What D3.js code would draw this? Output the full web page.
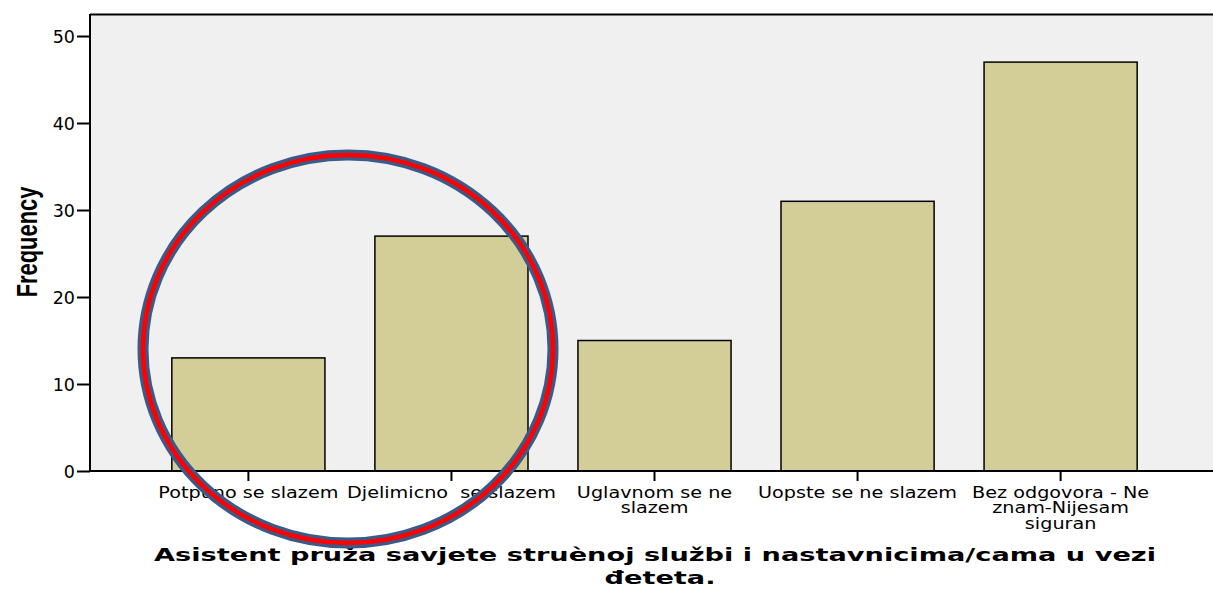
<!DOCTYPE html>
<html><head><meta charset="utf-8">
<script src="https://cdn.jsdelivr.net/npm/d3@7"></script>
<style>body{margin:0;background:#fff}svg{display:block}</style>
</head><body>
<svg id="c" width="1213" height="589"></svg>
<script>
const categories = ["Potpuno se slazem", "Djelimicno  se slazem", "Uglavnom se ne\nslazem", "Uopste se ne slazem", "Bez odgovora - Ne\nznam-Nijesam\nsiguran"];
const frequencies = [13, 27, 15, 31, 47];
const yTicks = [0, 10, 20, 30, 40, 50];
const titleLines = ["Asistent pruža savjete struènoj službi i nastavnicima/cama u vezi", "đeteta."];
const yLabel = "Frequency";

const svg = d3.select("#c");
const L = 90, T = 14, B = 471, R = 1213;

const x = d3.scaleBand().domain(categories).range([L, 1219]).paddingInner(0.246).paddingOuter(0.403);
const y = d3.scaleLinear().domain([0, 52.53]).range([B, T]);

svg.append("rect").attr("x", L).attr("y", T).attr("width", R - L).attr("height", B - T).attr("fill", "#f0f0f0");
svg.append("line").attr("x1", L).attr("x2", R).attr("y1", T + 0.5).attr("y2", T + 0.5).attr("stroke", "#000").attr("stroke-width", 2);

svg.selectAll("rect.bar").data(frequencies).enter().append("rect").attr("class", "bar")
  .attr("x", (d, i) => x(categories[i]))
  .attr("y", d => y(d))
  .attr("width", x.bandwidth())
  .attr("height", d => B - y(d))
  .attr("fill", "#d3ce97").attr("stroke", "#000").attr("stroke-width", 1.5);

// y axis
const yAxis = d3.axisLeft(y).tickValues(yTicks).tickSize(13).tickPadding(2);
const gy = svg.append("g").attr("transform", `translate(${L},0)`).call(yAxis);
gy.select(".domain").attr("stroke-width", 2).attr("d", `M0,${T}V${B}`);
gy.selectAll(".tick line").attr("stroke-width", 2);
gy.selectAll("text").attr("font-family", "DejaVu Sans").attr("font-size", 17.5).attr("fill", "#000").attr("dy", "0.36em");

// x axis
const xAxis = d3.axisBottom(x).tickSize(10).tickFormat("");
const gx = svg.append("g").attr("transform", `translate(0,${B})`).call(xAxis);
gx.select(".domain").attr("stroke-width", 2).attr("d", `M${L},0H${R}`);
gx.selectAll(".tick line").attr("stroke-width", 2);

const catStretch = 1.28;
categories.forEach(c => {
  const cx = x(c) + x.bandwidth() / 2;
  const lines = c.split("\n");
  const t = svg.append("text").attr("x", 0).attr("y", 498)
    .attr("transform", `translate(${cx},0) scale(${catStretch},1)`)
    .attr("text-anchor", "middle").attr("font-family", "DejaVu Sans").attr("font-size", 15).attr("fill", "#000")
    .style("white-space", "pre");
  lines.forEach((ln, i) => t.append("tspan").attr("x", 0).attr("dy", i === 0 ? 0 : 15.5).text(ln));
});

// y label (narrow bold)
svg.append("text").attr("transform", "translate(37,242) rotate(-90) scale(0.73,1)").attr("text-anchor", "middle")
  .attr("font-family", "Liberation Sans, Arial, sans-serif").attr("font-weight", "bold")
  .attr("font-size", 30).attr("fill", "#000").text(yLabel);

// title
const titleStretch = 1.47;
titleLines.forEach((ln, i) => {
  svg.append("text").attr("x", 0).attr("y", 561 + i * 23).attr("text-anchor", "middle")
    .attr("transform", `translate(${i === 0 ? 655 : 660},0) scale(${titleStretch},1)`)
    .attr("font-family", "DejaVu Sans").attr("font-weight", "bold").attr("font-size", 18.5)
    .attr("fill", "#000").text(ln);
});

// highlight circle
svg.append("ellipse").attr("cx", 348).attr("cy", 349).attr("rx", 205).attr("ry", 194)
  .attr("fill", "none").attr("stroke", "#3a5a88").attr("stroke-width", 11);
svg.append("ellipse").attr("cx", 348).attr("cy", 349).attr("rx", 205).attr("ry", 194)
  .attr("fill", "none").attr("stroke", "#ff0000").attr("stroke-width", 4.5);
</script>
</body></html>
